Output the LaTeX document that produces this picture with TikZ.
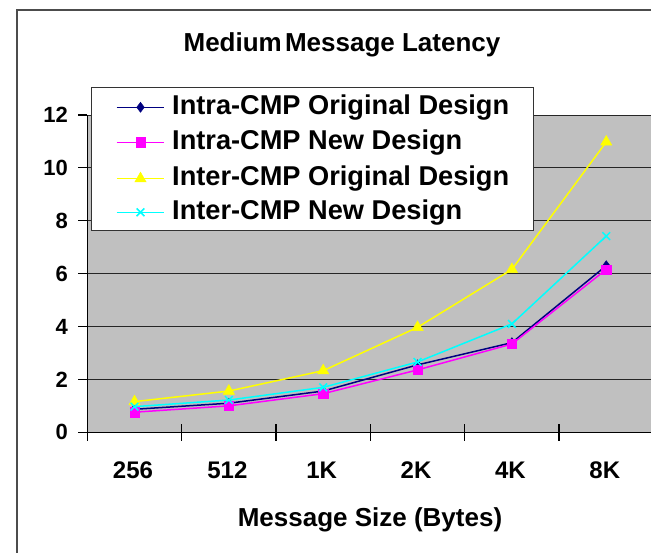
\documentclass[tikz,border=0pt]{standalone}
\usepackage{fontspec}
\setmainfont{Liberation Sans}
\usetikzlibrary{plotmarks}
\definecolor{plotgray}{HTML}{C0C0C0}
\definecolor{snavy}{HTML}{000080}
\definecolor{smag}{HTML}{FF00FF}
\definecolor{syel}{HTML}{FFFF00}
\definecolor{scyan}{HTML}{00FFFF}
\tikzset{
  yticklab/.style={font=\fontsize{22}{24}\selectfont\bfseries, inner sep=0pt},
  xticklab/.style={font=\fontsize{24}{26}\selectfont\bfseries, inner sep=0pt},
  legtext/.style={font=\fontsize{27.2}{30}\selectfont\bfseries, inner sep=0pt, anchor=west},
  bigtext/.style={font=\fontsize{26}{28}\selectfont\bfseries, inner sep=0pt},
  navyser/.style={snavy, line width=1.5pt, mark=diamond*, mark size=5pt, mark options={fill=snavy, draw=snavy, line width=0.5pt}},
  magser/.style={smag, line width=1.5pt, mark=square*, mark size=4.6pt, mark options={fill=smag, draw=smag, line width=0.5pt}},
  yelser/.style={syel, line width=1.5pt, mark=triangle*, mark size=6.5pt, mark options={fill=syel, draw=syel, line width=0.5pt}},
  cyanser/.style={scyan, line width=1.5pt, mark=x, mark size=5.5pt, mark options={draw=scyan, line width=1.5pt}},
  gridln/.style={black!85, line width=0.9pt},
  axisln/.style={black, line width=1.2pt}
}
\begin{document}
\begin{tikzpicture}[x=1pt, y=1pt]
\useasboundingbox (0,0) rectangle (651,553);
\fill[white] (0,0) rectangle (651,553);
% outer frame
\draw[line width=1.3pt, black!70] (17,-5) -- (17,543) -- (660,543);
% plot area
\fill[plotgray] (87.3,120.7) rectangle (660,438);
\foreach \v in {2,4,...,12} {
  \draw[gridln] (87.3,{120.7+26.44*\v}) -- (660,{120.7+26.44*\v});
}
\draw[axisln] (87.3,120.7) -- (87.3,438);
\draw[axisln] (87.3,120.7) -- (660,120.7);
\foreach \v in {0,2,...,12} {
  \draw[axisln] (78,{120.7+26.44*\v}) -- (87.3,{120.7+26.44*\v});
  \node[yticklab, anchor=east] (yl\v) at (68,{120.7+26.44*\v}) {\v};
}
\foreach \k in {0,...,6} {
  \draw[axisln] ({87.3+94.35*\k},112) -- ({87.3+94.35*\k},129);
}
\foreach \lab [count=\i from 0] in {256,512,1K,2K,4K,8K} {
  \node[xticklab] (xl\i) at ({133+94.35*\i},83) {\lab};
}
\node[bigtext] (xtitle) at (370,33) {Message Size (Bytes)};
\node[bigtext] (title) at (342,508) {Medium\hspace{-4pt} Message Latency};
% data
\begin{scope}[shift={(134.5,120.7)}, x=94.35pt, y=26.44pt]
  \draw[navyser] plot coordinates {(0,0.87) (1,1.10) (2,1.56) (3,2.55) (4,3.39) (5,6.30)};
  \draw[magser] plot coordinates {(0,0.76) (1,1.00) (2,1.46) (3,2.36) (4,3.34) (5,6.16)};
  \draw[yelser] plot coordinates {(0,1.16) (1,1.56) (2,2.33) (3,3.97) (4,6.16) (5,10.98)};
  \draw[cyanser] plot coordinates {(0,0.97) (1,1.22) (2,1.70) (3,2.66) (4,4.10) (5,7.42)};
\end{scope}
% legend
\draw[black!80, line width=1pt, fill=white] (91,322) rectangle (533,465);
\draw[navyser, mark=none] (116.7,445.7) -- (164.3,445.7);
\draw[navyser] plot coordinates {(140.5,445.7)};
\node[legtext] (l1) at (172,445.7) {Intra-CMP Original Design};
\draw[magser, mark=none] (116.7,410.7) -- (164.3,410.7);
\draw[magser] plot coordinates {(140.5,410.7)};
\node[legtext] (l2) at (172,410.7) {Intra-CMP New Design};
\draw[yelser, mark=none] (116.7,374.3) -- (164.3,374.3);
\draw[yelser] plot coordinates {(140.5,374.3)};
\node[legtext] (l3) at (172,374.3) {Inter-CMP Original Design};
\draw[cyanser, mark=none] (116.7,340.7) -- (164.3,340.7);
\draw[cyanser] plot coordinates {(140.5,340.7)};
\node[legtext] (l4) at (172,340.7) {Inter-CMP New Design};
\end{tikzpicture}
\end{document}
